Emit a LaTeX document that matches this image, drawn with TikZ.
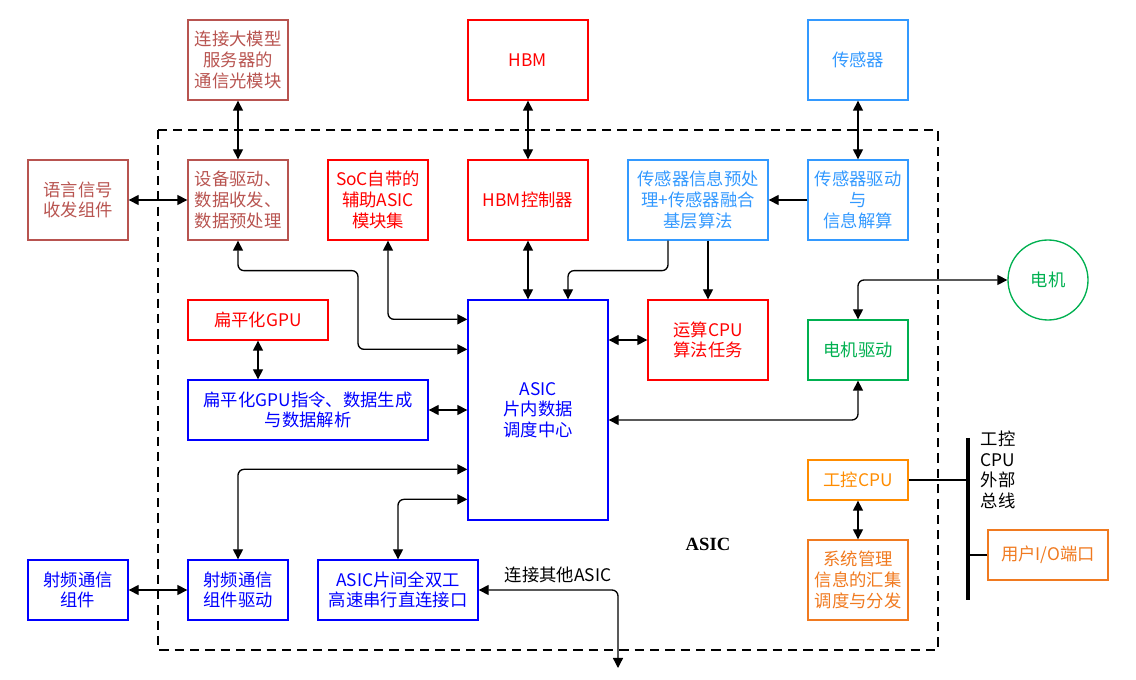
\documentclass[tikz,border=0pt]{standalone}
\usepackage{fontspec}
\setmainfont{Noto Sans CJK SC}
\newfontfamily\serifbold{Liberation Serif}
\usetikzlibrary{arrows.meta}
\definecolor{darkred}{HTML}{B85450}
\definecolor{sensorblue}{HTML}{3399FF}
\definecolor{motorgreen}{HTML}{00B050}
\definecolor{ctrlorange}{HTML}{FF8C00}
\definecolor{sysorange}{HTML}{F07A20}

\begin{document}
\begin{tikzpicture}[x=0.75pt,y=-0.75pt,every node/.style={font=\fontsize{13}{15.5}\selectfont, align=center, inner sep=1pt},box/.style={draw, line width=1pt, rectangle, minimum width=75pt, minimum height=60pt},dbl/.style={{Triangle[length=7.5pt,width=7.5pt]}-{Triangle[length=7.5pt,width=7.5pt]}, line width=1pt, rounded corners=4.5pt},one/.style={-{Triangle[length=7.5pt,width=7.5pt]}, line width=1pt, rounded corners=4.5pt}]
\useasboundingbox (0,0) rectangle (1136,680);
% ASIC frame
\draw[dash pattern=on 7pt off 4.5pt, line width=0.8pt] (158,130) rectangle (938,650);
% top row
\node[box, darkred] (optmod) at (238,60) {连接大模型\\服务器的\\通信光模块};
\node[box, red, minimum width=90pt] (hbm) at (528,60) {HBM};
\node[box, sensorblue] (sensor) at (858,60) {传感器};
% second row
\node[box, darkred] (voice) at (78,200) {语言信号\\收发组件};
\node[box, darkred] (devdrv) at (238,200) {设备驱动、\\数据收发、\\数据预处理};
\node[box, red] (soc) at (378,200) {SoC自带的\\辅助ASIC\\模块集};
\node[box, red, minimum width=90pt] (hbmctl) at (528,200) {HBM控制器};
\node[box, sensorblue, minimum width=105pt] (sensorpre) at (698,200) {传感器信息预处\\理+传感器融合\\基层算法};
\node[box, sensorblue] (sensordrv) at (858,200) {传感器驱动\\与\\信息解算};
% middle
\node[draw, circle, motorgreen, line width=1pt, minimum size=60pt] (motor) at (1048,280) {电机};
\node[box, motorgreen, minimum height=45pt] (motordrv) at (858,350) {电机驱动};
\node[box, red, minimum width=90pt] (calccpu) at (708,340) {运算CPU\\算法任务};
\node[box, blue, minimum width=105pt, minimum height=165pt] (hub) at (538,410) {ASIC\\片内数据\\调度中心};
\node[box, red, minimum width=105pt, minimum height=30pt] (gpu) at (258,320) {扁平化GPU};
\node[box, blue, minimum width=180pt, minimum height=45pt] (gpuinst) at (308,410) {扁平化GPU指令、数据生成\\与数据解析};
% bottom row
\node[box, blue, minimum height=45pt] (rf) at (78,590) {射频通信\\组件};
\node[box, blue, minimum height=45pt] (rfdrv) at (238,590) {射频通信\\组件驱动};
\node[box, blue, minimum width=120pt, minimum height=45pt] (serdes) at (398,590) {ASIC片间全双工\\高速串行直连接口};
\node[box, ctrlorange, minimum height=30pt] (indcpu) at (858,480) {工控CPU};
\node[box, sysorange] (sysmgr) at (858,580) {系统管理\\信息的汇集\\调度与分发};
\node[box, sysorange, minimum width=90pt, minimum height=37.5pt] (userio) at (1048,555) {用户I/O端口};
% labels
\node (buslabel) at (998,470) {工控\\CPU\\外部\\总线};
\node[font=\serifbold\bfseries\fontsize{14}{16}\selectfont] (asiclabel) at (708,544) {ASIC};
\node (otherasic) at (558,575) {连接其他ASIC};
\coordinate (bustop) at (968,438);
\coordinate (busbot) at (968,600);
\coordinate (otherend) at (618,668);
% connectors
\draw[dbl] (optmod) -- (devdrv);
\draw[dbl] (voice) -- (devdrv);
\draw[dbl] (hbm) -- (hbmctl);
\draw[dbl] (hbmctl.south) -- (hbmctl.south |- hub.north);
\draw[dbl] (sensor) -- (sensordrv);
\draw[one] (sensordrv) -- (sensorpre);
\draw[one] ([xshift=-22.5pt]sensorpre.south) -- ++(0,30) -| ([xshift=22.5pt]hub.north);
\draw[one] (calccpu.north |- sensorpre.south) -- (calccpu.north);
\draw[dbl] (devdrv.south) -- ++(0,30) -- ++(120,0) |- ([yshift=-37.5pt]hub.north west);
\draw[dbl] ([xshift=7.5pt]soc.south) |- ([yshift=-15pt]hub.north west);
\draw[dbl] (calccpu.west) -- (calccpu.west -| hub.east);
\draw[dbl] ([yshift=-7.5pt]hub.east) -| (motordrv.south);
\draw[dbl] (motor.west) -| (motordrv.north);
\draw[dbl] (gpu.south) -- (gpu.south |- gpuinst.north);
\draw[dbl] (gpuinst.east) -- (gpuinst.east -| hub.west);
\draw[dbl] (rfdrv.north) |- ([yshift=-127.5pt]hub.north west);
\draw[dbl] (serdes.north) |- ([yshift=-150pt]hub.north west);
\draw[dbl] (rf) -- (rfdrv);
\draw[dbl] (serdes.east) -| (otherend);
\draw[dbl] (indcpu) -- (sysmgr);
% bus
\draw[line width=2.5pt] (bustop) -- (busbot);
\draw[line width=1.5pt] (indcpu.east) -- (indcpu.east -| bustop);
\draw[line width=1.5pt] (userio.west) -- (userio.west -| bustop);
\end{tikzpicture}
\end{document}
